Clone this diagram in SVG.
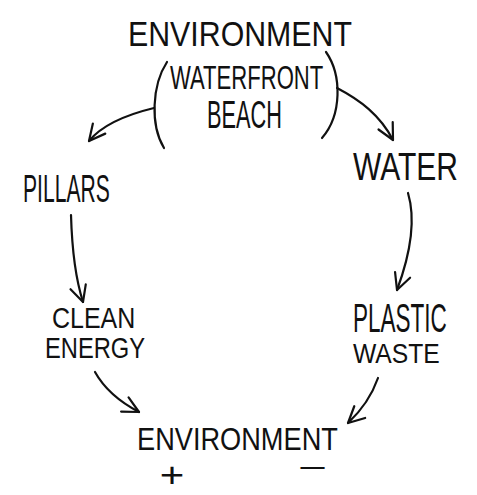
<svg xmlns="http://www.w3.org/2000/svg" width="477" height="495" viewBox="0 0 477 495">
<style>
.t{font-family:"Liberation Sans","DejaVu Sans",sans-serif;fill:#111}
.c{fill:none;stroke:#111;stroke-width:2.2;stroke-linecap:round;stroke-linejoin:round}
</style>
<defs>
<marker id="ah" viewBox="0 0 20 20" refX="18" refY="10" markerWidth="20" markerHeight="20" markerUnits="userSpaceOnUse" orient="auto">
<path d="M2,2 L18,10 L2,18" fill="none" stroke="#111" stroke-width="2.2" stroke-linecap="round" stroke-linejoin="round"/>
</marker>
</defs>
<rect width="477" height="495" fill="#fff"/>
<g id="env-top">
<text class="t" transform="translate(128,46) scale(0.7,1)" font-size="36" textLength="320" lengthAdjust="spacingAndGlyphs">ENVIRONMENT</text>
</g>
<g id="waterfront">
<path class="c" d="M167,62 C152,85 150,125 164,148"/>
<path class="c" d="M326,52 C342,75 342,115 322,138"/>
<text class="t" transform="translate(170,89) scale(0.7,1)" font-size="34" textLength="219" lengthAdjust="spacingAndGlyphs">WATERFRONT</text>
<text class="t" transform="translate(207,128) scale(0.7,1)" font-size="38" textLength="107" lengthAdjust="spacingAndGlyphs">BEACH</text>
</g>
<g id="pillars">
<text class="t" transform="translate(23,202) scale(0.7,1)" font-size="39" textLength="124" lengthAdjust="spacingAndGlyphs">PILLARS</text>
</g>
<g id="clean-energy">
<text class="t" transform="translate(52,328) scale(0.7,1)" font-size="30" textLength="119" lengthAdjust="spacingAndGlyphs">CLEAN</text>
<text class="t" transform="translate(45,358) scale(0.7,1)" font-size="30" textLength="143" lengthAdjust="spacingAndGlyphs">ENERGY</text>
</g>
<g id="water">
<text class="t" transform="translate(353,180) scale(0.7,1)" font-size="39" textLength="150" lengthAdjust="spacingAndGlyphs">WATER</text>
</g>
<g id="plastic-waste">
<text class="t" transform="translate(353,332) scale(0.7,1)" font-size="40" textLength="134" lengthAdjust="spacingAndGlyphs">PLASTIC</text>
<text class="t" transform="translate(353,363) scale(0.7,1)" font-size="28" textLength="124" lengthAdjust="spacingAndGlyphs">WASTE</text>
</g>
<g id="env-bottom">
<text class="t" transform="translate(137,450) scale(0.7,1)" font-size="32" textLength="287" lengthAdjust="spacingAndGlyphs">ENVIRONMENT</text>
<text class="t" transform="translate(172,487) scale(1.4,1.2)" font-size="30" text-anchor="middle">+</text>
<text class="t" x="298" y="478" font-size="30" textLength="29" lengthAdjust="spacingAndGlyphs">−</text>
</g>
<g id="connectors">
<path class="c" marker-end="url(#ah)" d="M154,108 C125,115 102,125 89,141"/>
<path class="c" marker-end="url(#ah)" d="M337,88 C360,100 380,115 393,140"/>
<path class="c" marker-end="url(#ah)" d="M71,215 C72,250 76,280 83,302"/>
<path class="c" marker-end="url(#ah)" d="M408,193 C416,220 410,255 397,290"/>
<path class="c" marker-end="url(#ah)" d="M95,372 C105,390 120,402 139,412"/>
<path class="c" marker-end="url(#ah)" d="M378,378 C372,395 362,410 348,423"/>
</g>
</svg>
